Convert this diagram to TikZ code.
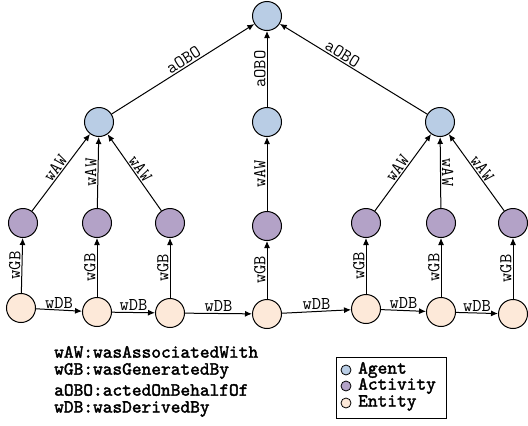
\documentclass[tikz,border=0pt]{standalone}
\usepackage{fontspec}
\newfontfamily\legfont[FakeBold=2]{lmmono10-regular.otf}
\usetikzlibrary{arrows.meta}
\definecolor{agentc}{HTML}{B9CDE5}
\definecolor{actc}{HTML}{B3A2C7}
\definecolor{entc}{HTML}{FDE9D9}
\begin{document}
\begin{tikzpicture}[x=1pt,y=-1pt,
  nd/.style={circle,draw,line width=1pt,minimum size=29pt,inner sep=0pt},
  agent/.style={nd,fill=agentc},
  act/.style={nd,fill=actc},
  ent/.style={nd,fill=entc},
  edge/.style={-{Latex[length=7pt,width=6pt]},line width=1pt},
  lbl/.style={font=\ttfamily\fontsize{18}{18}\selectfont,sloped,above,inner sep=1pt,midway},
  hl/.style={font=\ttfamily\fontsize{18}{18}\selectfont,above,inner sep=1pt,midway},
  legtxt/.style={font=\legfont\fontsize{18.5}{18.5}\selectfont,anchor=west,inner sep=0pt},
  legdot/.style={circle,draw,line width=0.8pt,minimum size=10pt,inner sep=0pt}
]
\useasboundingbox (0,0) rectangle (528,426);
% agents
\node[agent] (top) at (267,16) {};
\node[agent] (ag1) at (99,122) {};
\node[agent] (ag2) at (267,122) {};
\node[agent] (ag3) at (440,122) {};
% activities
\node[act] (a1) at (23,223) {};
\node[act] (a2) at (97,223) {};
\node[act] (a3) at (170,223) {};
\node[act] (a4) at (267,226) {};
\node[act] (a5) at (366,223) {};
\node[act] (a6) at (441,223) {};
\node[act] (a7) at (513,223) {};
% entities
\node[ent] (e1) at (21,308) {};
\node[ent] (e2) at (97,312) {};
\node[ent] (e3) at (170,313) {};
\node[ent] (e4) at (267,314) {};
\node[ent] (e5) at (366,309) {};
\node[ent] (e6) at (441,312) {};
\node[ent] (e7) at (513,314) {};
% aOBO
\draw[edge] (ag1) -- (top) node[lbl,pos=0.53] {aOBO};
\draw[edge] (ag2) -- (top) node[lbl] {aOBO};
\draw[edge] (ag3) -- (top) node[lbl,pos=0.6] {aOBO};
% wAW
\draw[edge] (a1) -- (ag1) node[lbl] {wAW};
\draw[edge] (a2) -- (ag1) node[lbl] {wAW};
\draw[edge] (a3) -- (ag1) node[lbl] {wAW};
\draw[edge] (a4) -- (ag2) node[lbl] {wAW};
\draw[edge] (a5) -- (ag3) node[lbl] {wAW};
\draw[edge] (a6) -- (ag3) node[lbl] {wAW};
\draw[edge] (a7) -- (ag3) node[lbl] {wAW};
% wGB
\draw[edge] (e1) -- (a1) node[lbl] {wGB};
\draw[edge] (e2) -- (a2) node[lbl] {wGB};
\draw[edge] (e3) -- (a3) node[lbl] {wGB};
\draw[edge] (e4) -- (a4) node[lbl] {wGB};
\draw[edge] (e5) -- (a5) node[lbl] {wGB};
\draw[edge] (e6) -- (a6) node[lbl] {wGB};
\draw[edge] (e7) -- (a7) node[lbl] {wGB};
% wDB
\draw[edge] (e1) -- (e2) node[hl] {wDB};
\draw[edge] (e2) -- (e3) node[hl] {wDB};
\draw[edge] (e3) -- (e4) node[hl] {wDB};
\draw[edge] (e4) -- (e5) node[hl] {wDB};
\draw[edge] (e5) -- (e6) node[hl] {wDB};
\draw[edge] (e6) -- (e7) node[hl] {wDB};
% abbreviations
\node[legtxt] (k1) at (54,352) {wAW:wasAssociatedWith};
\node[legtxt] (k2) at (54,371) {wGB:wasGeneratedBy};
\node[legtxt] (k3) at (54,390) {aOBO:actedOnBehalfOf};
\node[legtxt] (k4) at (54,409) {wDB:wasDerivedBy};
% legend
\draw[line width=0.8pt] (336,357) rectangle (446,418);
\node[legdot,fill=agentc] (d1) at (346,370) {};
\node[legdot,fill=actc] (d2) at (346,386) {};
\node[legdot,fill=entc] (d3) at (346,403) {};
\node[legtxt] (t1) at (358,370) {Agent};
\node[legtxt] (t2) at (358,386) {Activity};
\node[legtxt] (t3) at (358,403) {Entity};
\end{tikzpicture}
\end{document}
